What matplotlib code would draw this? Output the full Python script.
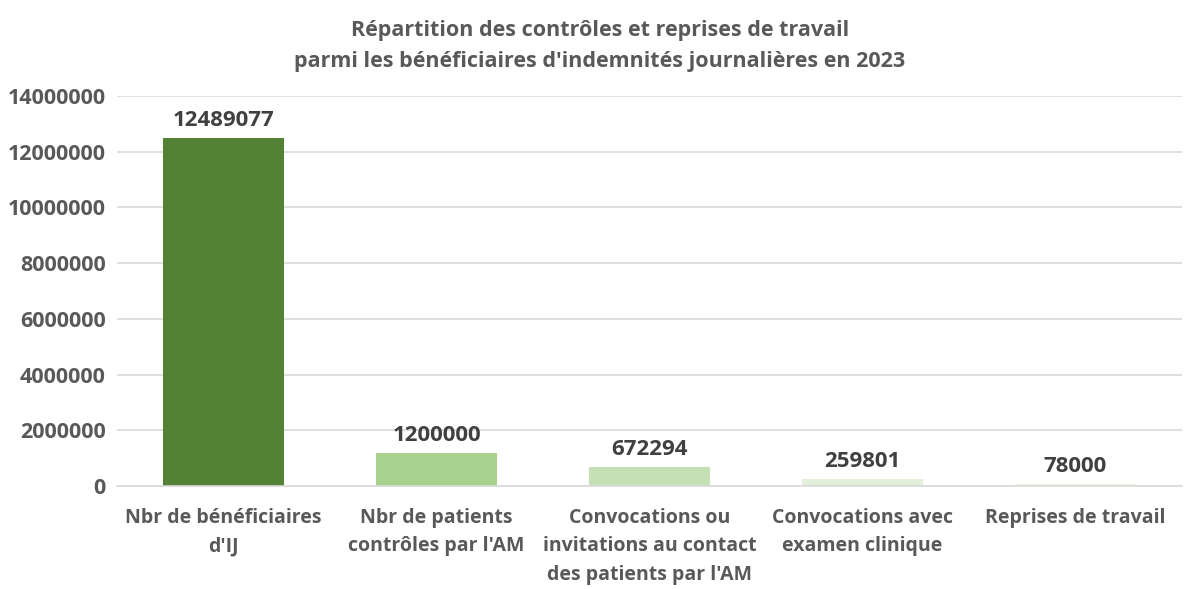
import matplotlib
matplotlib.use("Agg")
import matplotlib.pyplot as plt
import numpy as np

plt.rcParams['font.family'] = ['Open Sans', 'DejaVu Sans']

categories = ["Nbr de bénéficiaires\nd'IJ",
              "Nbr de patients\ncontrôles par l'AM",
              "Convocations ou\ninvitations au contact\ndes patients par l'AM",
              "Convocations avec\nexamen clinique",
              "Reprises de travail"]
values = [12489077, 1200000, 672294, 259801, 78000]
colors = ['#548235', '#A9D18E', '#C5E0B4', '#E2F0D9', '#EAF3E3']
yticks = np.arange(0, 14000001, 2000000)

fig = plt.figure(figsize=(12, 5.89), dpi=100)
ax = fig.add_axes([0.0975, 0.175, 0.8875, 0.662])

x = np.arange(len(values))
ax.bar(x, values, 0.57, color=colors, zorder=2)

for xi, v in zip(x, values):
    ax.text(xi, v + 250000, str(v), ha='center', va='bottom',
            fontsize=16, fontweight='bold', color='#404040')

ax.set_xlim(-0.5, len(values) - 0.5)
ax.set_ylim(0, 14000000)
ax.set_yticks(yticks)
ax.set_yticklabels([str(t) for t in yticks], fontsize=15.5, fontweight='bold', color='#595959')
ax.set_xticks(x)
ax.set_xticklabels(categories, fontsize=14, fontweight='bold', color='#595959',
                   linespacing=1.55, va='top')
ax.tick_params(axis='both', length=0)
ax.tick_params(axis='x', pad=16)
ax.tick_params(axis='y', pad=8)
ax.grid(axis='y', color='#D9D9D9', linewidth=1.2, zorder=0)
for s in ['top', 'right', 'left']:
    ax.spines[s].set_visible(False)
ax.spines['bottom'].set_color('#D9D9D9')
ax.spines['bottom'].set_linewidth(1.2)

fig.text(0.5, 0.966, "Répartition des contrôles et reprises de travail\nparmi les bénéficiaires d'indemnités journalières en 2023",
         ha='center', va='top', fontsize=15.5, fontweight='bold', color='#595959',
         linespacing=1.6)

fig.savefig('out.png', dpi=100)
